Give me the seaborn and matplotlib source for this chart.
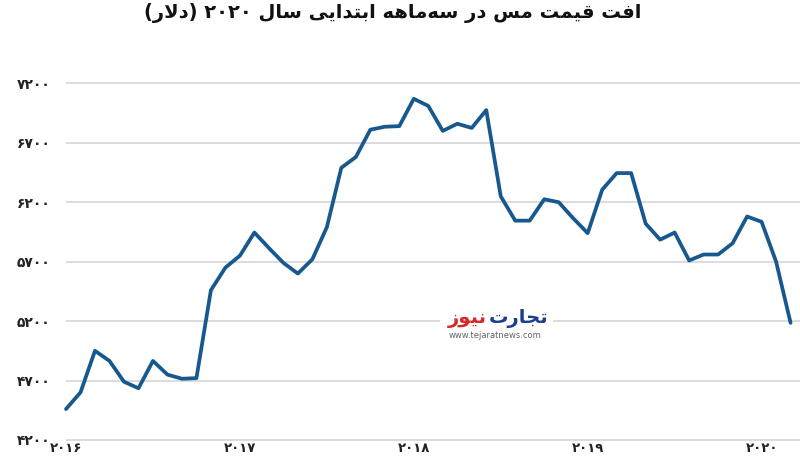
import seaborn as sns
import pandas as pd
import numpy as np
import matplotlib
matplotlib.use("Agg")
import matplotlib.pyplot as plt
from matplotlib.patches import Rectangle

# monthly copper price, Jan 2016 .. Mar 2020
prices = [4460, 4600, 4950, 4865, 4690, 4635, 4865, 4750, 4715, 4720, 5460, 5650,
          5750, 5945, 5815, 5690, 5600, 5720, 5990, 6490, 6580, 6810, 6835, 6840,
          7070, 7010, 6800, 6860, 6825, 6975, 6250, 6045, 6045, 6225, 6200, 6065,
          5940, 6305, 6445, 6445, 6020, 5885, 5945, 5710, 5760, 5760, 5855, 6080,
          6035, 5700, 5185]
months = list(range(len(prices)))
year_ticks = [0, 12, 24, 36, 48]
year_labels = ["2016", "2017", "2018", "2019", "2020"]
y_ticks = [4200, 4700, 5200, 5700, 6200, 6700, 7200]
title = "افت قیمت مس در سه\u200cماهه ابتدایی سال ۲۰۲۰ (دلار)"

# tiny arabic shaper: matplotlib does no joining / RTL on its own
FORMS = {
    'ا': ('\ufe8d', '\ufe8e', None, None),
    'ب': ('\ufe8f', '\ufe90', '\ufe91', '\ufe92'),
    'ت': ('\ufe95', '\ufe96', '\ufe97', '\ufe98'),
    'ج': ('\ufe9d', '\ufe9e', '\ufe9f', '\ufea0'),
    'د': ('\ufea9', '\ufeaa', None, None),
    'ر': ('\ufead', '\ufeae', None, None),
    'ز': ('\ufeaf', '\ufeb0', None, None),
    'س': ('\ufeb1', '\ufeb2', '\ufeb3', '\ufeb4'),
    'ف': ('\ufed1', '\ufed2', '\ufed3', '\ufed4'),
    'ق': ('\ufed5', '\ufed6', '\ufed7', '\ufed8'),
    'ل': ('\ufedd', '\ufede', '\ufedf', '\ufee0'),
    'م': ('\ufee1', '\ufee2', '\ufee3', '\ufee4'),
    'ن': ('\ufee5', '\ufee6', '\ufee7', '\ufee8'),
    'ه': ('\ufee9', '\ufeea', '\ufeeb', '\ufeec'),
    'و': ('\ufeed', '\ufeee', None, None),
    'ی': ('\ufeef', '\ufef0', '\ufef3', '\ufef4'),
}


def shape(word):
    res = []
    i = 0
    n = len(word)
    while i < n:
        c = word[i]
        if c == '\u200c':
            i += 1
            continue
        if c not in FORMS:
            res.append(c)
            i += 1
            continue
        prev = word[i - 1] if i > 0 else None
        jp = prev in FORMS and FORMS[prev][2] is not None
        if c == 'ل' and i + 1 < n and word[i + 1] == 'ا':
            res.append('\ufefc' if jp else '\ufefb')
            i += 2
            continue
        nxt = word[i + 1] if i + 1 < n else None
        jn = FORMS[c][2] is not None and nxt in FORMS
        iso, fin, ini, med = FORMS[c]
        res.append(med if (jp and jn) else fin if jp else ini if jn else iso)
        i += 1
    return ''.join(res)


def rtl(text):
    vis = []
    for t in text.split(' '):
        if t.isdigit():
            vis.append(t)
        else:
            vis.append(shape(t)[::-1].translate(str.maketrans('()', ')(')))
    return ' '.join(reversed(vis))


def fa(s):
    return str(s).translate(str.maketrans('0123456789', '۰۱۲۳۴۵۶۷۸۹'))


df = pd.DataFrame({"month": months, "price": prices})

sns.set_style("white")
plt.rcParams['font.family'] = ['DejaVu Sans']

fig = plt.figure(figsize=(8, 4.58), dpi=100)
ax = fig.add_axes([66 / 800, 0.0264, 734 / 800, 0.8046])

sns.lineplot(data=df, x="month", y="price", ax=ax, color="#17598f",
             linewidth=2.7, clip_on=False, zorder=4)

ax.set_xlim(0.14, 50.65)
ax.set_ylim(4150, 7250)
ax.set_yticks(y_ticks)
ax.set_yticklabels([fa(v) for v in y_ticks], fontsize=10, fontweight="bold", color="#222222")
ax.set_xticks(year_ticks)
ax.set_xticklabels([fa(v) for v in year_labels], fontsize=9.5, fontweight="bold", color="#222222")
ax.tick_params(axis="y", length=0, pad=11)
ax.tick_params(axis="x", length=0, pad=-2.5)
ax.yaxis.grid(True, color="#dcdcdc", linewidth=1.4)
ax.set_axisbelow(True)
for s in ax.spines.values():
    s.set_visible(False)
ax.set_xlabel("")
ax.set_ylabel("")

fig.text(393 / 800, 1 - 13 / 458, rtl(title), ha="center", va="center",
         fontsize=14, fontweight="bold", color="#111111")

# watermark
ax.add_patch(Rectangle((440 / 800, 1 - 342 / 458), 113 / 800, 42 / 458,
                       transform=fig.transFigure, facecolor="white",
                       edgecolor="none", zorder=3))
fig.text(487 / 800, 1 - 318 / 458, rtl("نیوز"), ha="right", va="center",
         fontsize=14, fontweight="bold", color="#d62828", zorder=5)
fig.text(489 / 800, 1 - 318 / 458, rtl("تجارت"), ha="left", va="center",
         fontsize=14, fontweight="bold", color="#1b3f8f", zorder=5)
fig.text(495 / 800, 1 - 335 / 458, "www.tejaratnews.com", ha="center", va="center",
         fontsize=6, color="#666666", zorder=5)

fig.savefig("out.png", dpi=100)
